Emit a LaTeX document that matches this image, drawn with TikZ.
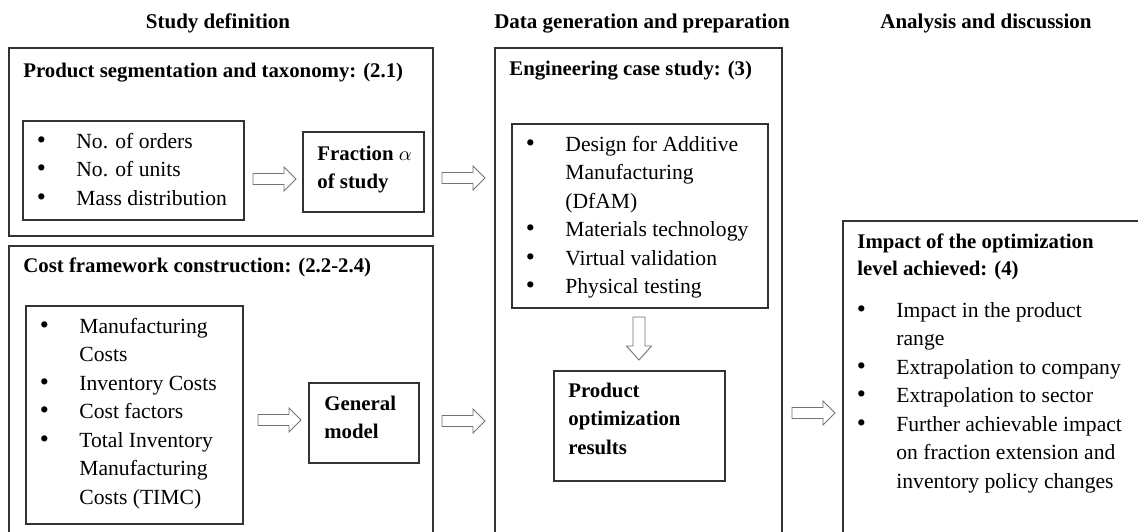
\documentclass[tikz,border=0pt]{standalone}
\usepackage{fontspec}
\setmainfont{Liberation Serif}
\newcommand\bl{\llap{\makebox[0pt][c]{\fontsize{13}{14}\selectfont\textbullet}\hspace{17.5pt}}}
\newcommand\lines[1]{\begin{tabular}[t]{@{}l@{}}#1\end{tabular}}
\newcommand\mybox[5]{\node[box,anchor=north west,inner sep=0pt,outer sep=0pt,minimum width={(#4-#2)*0.5pt},minimum height={(#5-#3)*0.5pt}] (#1) at (#2,#3) {};}
\newcommand\rarrow[3]{\draw[barrow] (#1,{#3-5.5}) -- ({#2-12},{#3-5.5}) -- ({#2-12},{#3-12}) -- (#2,#3) -- ({#2-12},{#3+12}) -- ({#2-12},{#3+5.5}) -- (#1,{#3+5.5}) -- cycle;}
\newcommand\darrow[3]{\draw[barrow] ({#1-6},#2) -- ({#1-6},{#3-14}) -- ({#1-12.5},{#3-14}) -- (#1,#3) -- ({#1+12.5},{#3-14}) -- ({#1+6},{#3-14}) -- ({#1+6},#2) -- cycle;}
\begin{document}
\begin{tikzpicture}[x=0.5pt,y=-0.5pt,
  box/.style={draw=black!80, line width=0.65pt},
  hdr/.style={font=\fontsize{10.5}{14.25}\selectfont\bfseries, anchor=base, inner sep=0pt},
  ttl/.style={font=\fontsize{10.4}{14.25}\selectfont\bfseries, anchor=base west, inner sep=0pt},
  lst/.style={font=\fontsize{10.8}{14.25}\selectfont, anchor=base west, inner sep=0pt},
  barrow/.style={draw=black!55, line width=0.45pt, fill=white}]
\useasboundingbox (0,0) rectangle (1138,531);
\clip (0,0) rectangle (1138,531);
% column headers
\node[hdr] (h1) at (218,28) {Study definition};
\node[hdr] (h2) at (642,28) {Data generation and preparation};
\node[hdr] (h3) at (986,28) {Analysis and discussion};
% boxes
\mybox{boxA}{9}{48}{433}{236}
\mybox{listA}{23}{121}{244}{220}
\mybox{fracA}{303}{132}{424}{212}
\mybox{boxB}{9}{246}{433}{540}
\mybox{listB}{26}{306}{243}{524}
\mybox{genB}{309}{383}{419}{463}
\mybox{boxC}{495}{48}{782}{540}
\mybox{listC}{512}{124}{768}{308}
\mybox{prodC}{554}{371}{725}{481}
\mybox{boxD}{843}{221}{1150}{540}
% texts
\node[ttl] (tA) at (23,77) {Product segmentation and taxonomy: (2.1)};
\node[lst] (lA) at (76,148) {\lines{\bl No. of orders\\ \bl No. of units\\ \bl Mass distribution}};
\node[ttl] (fA) at (317,160) {\lines{Fraction $\alpha$\\ of study}};
\node[ttl] (tB) at (23,272) {Cost framework construction: (2.2-2.4)};
\node[lst] (lB) at (79,333) {\lines{\bl Manufacturing\\ Costs\\ \bl Inventory Costs\\ \bl Cost factors\\ \bl Total Inventory\\ Manufacturing\\ Costs (TIMC)}};
\node[ttl] (gB) at (324,410) {\lines{General\\ model}};
\node[ttl] (tC) at (509,75) {Engineering case study: (3)};
\node[lst] (lC) at (565,151) {\lines{\bl Design for Additive\\ Manufacturing\\ (DfAM)\\ \bl Materials technology\\ \bl Virtual validation\\ \bl Physical testing}};
\node[ttl] (pC) at (568,397) {\lines{Product\\ optimization\\ results}};
\node[ttl] (tD) at (857,248) {\lines{Impact of the optimization\\[-0.75pt] level achieved: (4)}};
\node[lst] (lD) at (896,317) {\lines{\bl Impact in the product\\ range\\ \bl Extrapolation to company\\ \bl Extrapolation to sector\\ \bl Further achievable impact\\ on fraction extension and\\ inventory policy changes}};
% block arrows
\rarrow{253}{296}{179}
\rarrow{442}{485}{178}
\rarrow{258}{301}{420}
\rarrow{442}{485}{421}
\rarrow{792}{835}{413}
\darrow{639}{317}{360}
\end{tikzpicture}
\end{document}
